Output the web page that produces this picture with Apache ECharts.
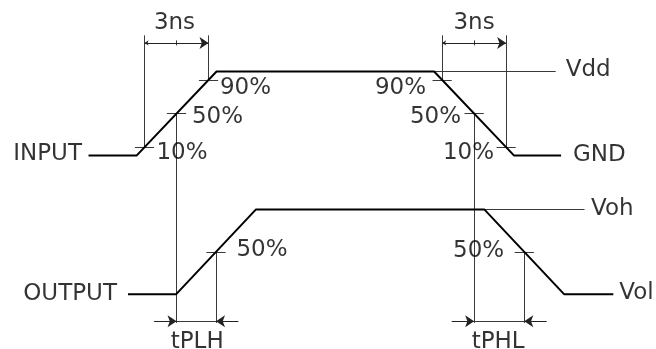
<!DOCTYPE html>
<html>
<head>
<meta charset="utf-8">
<script src="https://cdn.jsdelivr.net/npm/echarts@6.0.0/dist/echarts.min.js"></script>
<style>
  html, body { margin: 0; padding: 0; background: #fff; }
  #chart { width: 656px; height: 349px; }
</style>
</head>
<body>
<div id="chart"></div>
<script>
// Propagation-delay timing diagram: input / output edges with 10-50-90 % thresholds.

// Signal names and rail names
const signalNames = ['INPUT', 'OUTPUT'];
const inputRails = ['Vdd', 'GND'];
const outputRails = ['Voh', 'Vol'];

// Waveform breakpoints: time in ns, level as a fraction of the swing
const inputTimes = [-2.25, 0, 3.75, 13.95, 17.7, 19.9];
const inputLevels = [0, 0, 1, 1, 0, 0];
const outputTimes = [-0.4, 1.85, 5.6, 16.3, 20.05, 22.35];
const outputLevels = [0, 0, 1, 1, 0, 0];

// Threshold levels marked on the edges
const inputThresholds = [0.1, 0.5, 0.9];
const outputThresholds = [0.5];

// Timing annotations
const transitionLabel = '3ns';
const delayLabels = ['tPLH', 'tPHL'];

// Where the thin high-rail reference lines stop (ns)
const vddRefEnd = 19.65;
const vohRefEnd = 21.0;

// ---- drawing helpers ----
const OUT_BASE = -1.65;   // output trace sits below the input
const OUT_SWING = 1.01;
const outY = l => OUT_BASE + l * OUT_SWING;

const EXT_TOP = 1.43, DIM_TOP = 1.34, TXT_TOP = 1.59;
const EXT_BOT = -1.99, DIM_BOT = -1.97, TXT_BOT = -2.2;
const TICK_HALF = 0.45, TAIL = 1.05;

// time at which the edge starting at breakpoint i crosses level f
function edgeCross(times, levels, i, f) {
  return times[i] + (f - levels[i]) / (levels[i + 1] - levels[i]) * (times[i + 1] - times[i]);
}
const inRise = f => edgeCross(inputTimes, inputLevels, 1, f);
const inFall = f => edgeCross(inputTimes, inputLevels, 3, f);
const outRise = f => edgeCross(outputTimes, outputLevels, 1, f);
const outFall = f => edgeCross(outputTimes, outputLevels, 3, f);
const pct = f => Math.round(f * 100) + '%';

const inputLine = inputTimes.map((t, i) => [t, inputLevels[i]]);
const outputLine = outputTimes.map((t, i) => [t, outY(outputLevels[i])]);

const lo = inputThresholds[0], hi = inputThresholds[inputThresholds.length - 1], mid = 0.5;
const tLoR = inRise(lo), tHiR = inRise(hi), tHiF = inFall(hi), tLoF = inFall(lo);
const tInMidR = inRise(mid), tInMidF = inFall(mid);
const tOutMidR = outRise(outputThresholds[0]), tOutMidF = outFall(outputThresholds[0]);
const outMidY = outY(outputThresholds[0]);

// thin grey construction lines
const seg = (a, b) => ({ coords: [a, b] });
const guides = [
  seg([inputTimes[3], 1], [vddRefEnd, 1]),
  seg([outputTimes[3], outY(1)], [vohRefEnd, outY(1)]),
  // extension lines for the transition-time dimensions
  seg([tLoR, lo], [tLoR, EXT_TOP]),
  seg([tHiR, hi], [tHiR, EXT_TOP]),
  seg([tHiF, hi], [tHiF, EXT_TOP]),
  seg([tLoF, lo], [tLoF, EXT_TOP]),
  seg([(tLoR + tHiR) / 2, DIM_TOP - 0.03], [(tLoR + tHiR) / 2, DIM_TOP + 0.03]),
  seg([(tHiF + tLoF) / 2, DIM_TOP - 0.03], [(tHiF + tLoF) / 2, DIM_TOP + 0.03]),
  // extension lines for the propagation delays
  seg([tInMidR, mid], [tInMidR, EXT_BOT]),
  seg([tInMidF, mid], [tInMidF, EXT_BOT]),
  seg([tOutMidR, outMidY], [tOutMidR, EXT_BOT]),
  seg([tOutMidF, outMidY], [tOutMidF, EXT_BOT]),
  seg([tInMidR, DIM_BOT], [tOutMidR, DIM_BOT]),
  seg([tInMidF, DIM_BOT], [tOutMidF, DIM_BOT])
];
// threshold ticks
inputThresholds.forEach(f => {
  [inRise(f), inFall(f)].forEach(t => guides.push(seg([t - TICK_HALF, f], [t + TICK_HALF, f])));
});
outputThresholds.forEach(f => {
  [outRise(f), outFall(f)].forEach(t => guides.push(seg([t - TICK_HALF, outY(f)], [t + TICK_HALF, outY(f)])));
});

const dims = [
  seg([tLoR, DIM_TOP], [tHiR, DIM_TOP]),
  seg([tHiF, DIM_TOP], [tLoF, DIM_TOP])
];
const tails = [
  seg([tInMidR - TAIL, DIM_BOT], [tInMidR, DIM_BOT]),
  seg([tOutMidR + TAIL, DIM_BOT], [tOutMidR, DIM_BOT]),
  seg([tInMidF - TAIL, DIM_BOT], [tInMidF, DIM_BOT]),
  seg([tOutMidF + TAIL, DIM_BOT], [tOutMidF, DIM_BOT])
];

// text labels
const lab = (x, y, text, pos, align) => ({
  name: text, value: [x, y],
  label: { position: pos, align: align, verticalAlign: 'middle' }
});
const riseOff = { 0.1: [12, 6], 0.5: [15.5, 3.5], 0.9: [11.5, 8] };
const fallOff = { 0.1: [-12, 6], 0.5: [-13, 3.5], 0.9: [-16, 8] };
const labels = [
  lab(inputTimes[0], 0, signalNames[0], [-6.5, -1], 'right'),
  lab(outputTimes[0], outY(0), signalNames[1], [-11, 0], 'right'),
  lab(vddRefEnd, 1, inputRails[0], [10, -1], 'left'),
  lab(inputTimes[5], 0, inputRails[1], [12, -0.5], 'left'),
  lab(vohRefEnd, outY(1), outputRails[0], [6.5, 0], 'left'),
  lab(outputTimes[5], outY(0), outputRails[1], [6, -1], 'left'),
  lab((tLoR + tHiR) / 2, TXT_TOP, transitionLabel, [-2, 1], 'center'),
  lab((tHiF + tLoF) / 2, TXT_TOP, transitionLabel, [0, 1], 'center'),
  lab((tInMidR + tOutMidR) / 2, TXT_BOT, delayLabels[0], [1, 1], 'center'),
  lab((tInMidF + tOutMidF) / 2, TXT_BOT, delayLabels[1], [-1, 1], 'center'),
  lab(tOutMidR, outMidY, pct(outputThresholds[0]), [20.5, -2], 'left'),
  lab(tOutMidF, outMidY, pct(outputThresholds[0]), [-20, -1], 'right')
];
inputThresholds.forEach(f => {
  labels.push(lab(inRise(f), f, pct(f), riseOff[f], 'left'));
  labels.push(lab(inFall(f), f, pct(f), fallOff[f], 'right'));
});

const GUIDE = '#3a3a3a';
const chart = echarts.init(document.getElementById('chart'), null, { renderer: 'canvas' });
chart.setOption({
  animation: false,
  backgroundColor: '#fff',
  grid: { left: 0, right: 0, top: 0, bottom: 0 },
  xAxis: { type: 'value', min: -6.4, max: 24.35, show: false },
  yAxis: { type: 'value', min: -2.3, max: 1.85, show: false },
  series: [
    {
      type: 'lines', coordinateSystem: 'cartesian2d', silent: true, z: 1,
      lineStyle: { color: GUIDE, width: 1, opacity: 1 },
      data: guides
    },
    {
      type: 'lines', coordinateSystem: 'cartesian2d', silent: true, z: 1,
      symbol: ['arrow', 'arrow'], symbolSize: [4, 9],
      lineStyle: { color: '#222', width: 1, opacity: 1 },
      data: dims
    },
    {
      type: 'lines', coordinateSystem: 'cartesian2d', silent: true, z: 1,
      symbol: ['none', 'arrow'], symbolSize: [4, 9],
      lineStyle: { color: '#222', width: 1, opacity: 1 },
      data: tails
    },
    {
      type: 'line', name: signalNames[0], data: inputLine, showSymbol: false, silent: true, z: 3,
      lineStyle: { color: '#000', width: 2 }
    },
    {
      type: 'line', name: signalNames[1], data: outputLine, showSymbol: false, silent: true, z: 3,
      lineStyle: { color: '#000', width: 2 }
    },
    {
      type: 'scatter', silent: true, z: 4, symbolSize: 0.1,
      itemStyle: { color: 'rgba(0,0,0,0)' },
      label: {
        show: true, formatter: p => p.name,
        fontFamily: 'DejaVu Sans', fontSize: 23, color: '#000'
      },
      data: labels
    }
  ]
});
</script>
</body>
</html>
